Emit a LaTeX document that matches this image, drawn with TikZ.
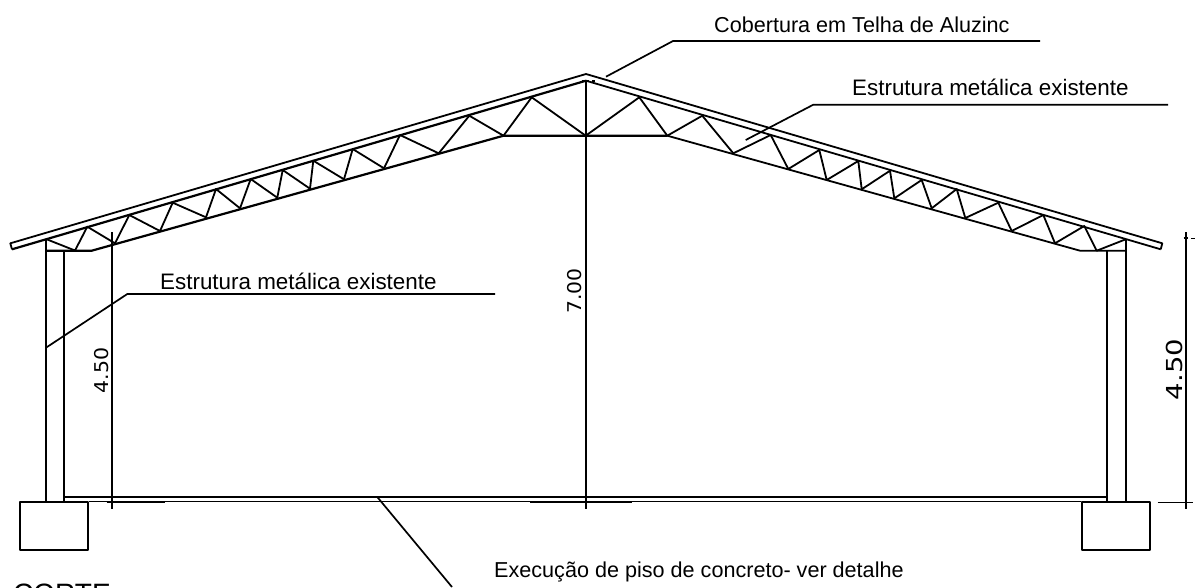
\documentclass[tikz,border=0pt]{standalone}
\usepackage{fontspec}
\setmainfont{Liberation Sans}
\newfontfamily\dimfont{DejaVu Sans}
\usepackage{tikz}

\begin{document}
\begin{tikzpicture}[x=1pt,y=-1pt,line join=round]

        \tikzstyle{steel}=[line width=1.8pt]
        \tikzstyle{chord}=[line width=2.2pt]
        \tikzstyle{slab}=[line width=1.8pt]
        \tikzstyle{leader}=[line width=1.7pt]
        \tikzstyle{dimline}=[line width=1.7pt]
        \tikzstyle{calltext}=[inner sep=0pt,anchor=base west,font=\fontsize{21.6}{26}\selectfont]
        \tikzstyle{dimtext}=[inner sep=0pt,rotate=90,font=\dimfont\fontsize{19}{22}\selectfont]

        \useasboundingbox (0,0) rectangle (1202,587);
        \clip (0,0) rectangle (1202,587);

        %% Roof sheet
        \coordinate (apex) at (586,74);
        \coordinate (apexlow) at (586,80.7);
        \draw[steel] (12,249.3) -- (10.3,243.3) -- (apex) -- (1162.3,243.3) -- (1160.7,249.3);
        \draw[chord] (12,249.3) -- (apexlow);
        \draw[steel] (apexlow) -- (1160.7,249.3);

        %% Lower chords
        \draw[chord] (46.5,250.7) -- (91.7,250.7) -- (503.5,135.7) -- (667.3,135.7);
        \draw[steel] (667.3,135.7) -- (1080,250.7) -- (1125.7,250.7);

        %% Web of the truss
        \draw[steel] (46.7,239.3) -- (75,250.5) -- (87.3,226.7) -- (115,243.3) -- (129.3,215)
            -- (160,231) -- (172.7,202.7) -- (206,217.3) -- (216,189) -- (240,208.3)
            -- (250.7,179) -- (277.3,197.7) -- (282.7,170) -- (310,188.7) -- (313.3,160.7)
            -- (344,179.3) -- (352.7,149) -- (384,168.3) -- (400,135) -- (438.7,153.3)
            -- (469.3,115.7) -- (503.5,135.7) -- (531.7,97.3) -- (585.7,135.7);
        \draw[steel] (585.7,135.7) -- (639.3,97.3) -- (667.3,135.7) -- (702.3,115.7)
            -- (733.3,153.3) -- (770.7,135) -- (788.3,169) -- (819.3,150) -- (826.7,180)
            -- (858.3,161) -- (861.7,189.3) -- (890,170.7) -- (894.3,198.3) -- (921.7,180)
            -- (931.7,208.3) -- (956.7,189) -- (965.3,218) -- (998.3,202.7) -- (1011.7,231)
            -- (1043.3,215) -- (1055,243.3) -- (1084.3,226) -- (1096.7,250.7) -- (1125.7,239.3);

        %% Columns
        \draw[steel] (46.3,239.3) -- (46.3,502.5);
        \draw[steel] (64,250.7) -- (64,502.5);
        \draw[steel] (1107.3,250.7) -- (1107.3,502.5);
        \draw[chord] (1125.7,239.3) -- (1125.7,250.7);
        \draw[steel] (1125.7,250.7) -- (1125.7,502.5);

        %% Footings and floor
        \node[draw,slab,inner sep=0pt,minimum width=68pt,minimum height=48pt] (footl) at (54.3,526.3) {};
        \node[draw,slab,inner sep=0pt,minimum width=67.4pt,minimum height=48pt] (footr) at (1116,526.3) {};
        \draw[slab] (64,497) -- (1107.3,497);
        \draw[slab] (footl.north east) -- (footr.north west);

        %% Dimension lines
        \draw[dimline] (111.7,232) -- (111.7,509);
        \draw[dimline] (106.7,502.5) -- (165,502.5);
        \draw[dimline] (585.7,80) -- (585.7,509);
        \draw[dimline] (530,502.5) -- (632,502.5);
        \draw[dimline] (582,80.7) -- (589,80.7) (592,81) -- (595,81);
        \draw[dimline] (1186,232) -- (1186,509);
        \draw[dimline] (1157.7,502.5) -- (1192.7,502.5);
        \draw[dimline] (1183.5,238) -- (1188,238) (1191,238.5) -- (1195,238.5);

        \node[dimtext] (dimcol) at (102,370.5) {\scalebox{1.08}[1]{4.50}};
        \node[dimtext] (dimcentre) at (575,291) {\scalebox{1.07}[1]{7.00}};
        \node[dimtext,font=\dimfont\fontsize{22}{26}\selectfont] (dimside) at (1174,369.5) {\scalebox{1.25}[1]{4.50}};

        %% Callouts
        \node[calltext] (roof) at (714,32) {Cobertura em Telha de Aluzinc};
        \coordinate (roofend) at (606,76.7);
        \draw[leader] (roofend) -- (673,41) -- (1040,41);

        \node[calltext,font=\fontsize{22.4}{26}\selectfont] (trussr) at (852,95) {Estrutura metálica existente};
        \coordinate (trussrend) at (745.7,140);
        \draw[leader] (trussrend) -- (813.3,104.7) -- (1168,104.7);

        \node[calltext,font=\fontsize{22.4}{26}\selectfont] (trussl) at (160,289.3) {Estrutura metálica existente};
        \coordinate (trusslend) at (46,347.7);
        \draw[leader] (trusslend) -- (127.3,294) -- (495,294);

        \node[calltext] (floor) at (494,577.7) {Execução de piso de concreto- ver detalhe};
        \coordinate (floorend) at (377.7,497.5);
        \draw[leader] (floorend) -- (452,587);

        \node[calltext,font=\fontsize{28}{32}\selectfont] (title) at (13,603) {CORTE};

\end{tikzpicture}
\end{document}
